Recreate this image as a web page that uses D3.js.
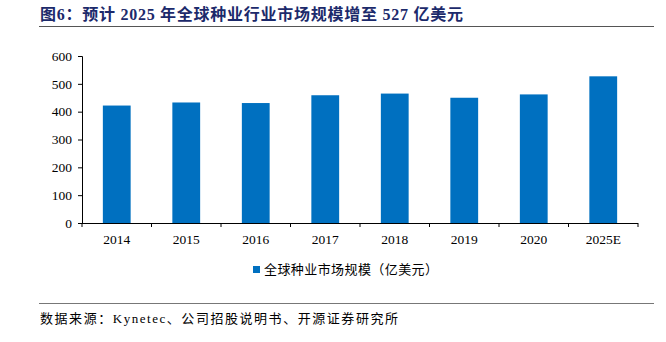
<!DOCTYPE html>
<html><head><meta charset="utf-8">
<script src="https://cdn.jsdelivr.net/npm/d3@7"></script>
<style>body{margin:0;background:#fff}</style>
</head><body>
<svg id="c" width="666" height="342"></svg>
<script>
const categories = ["2014","2015","2016","2017","2018","2019","2020","2025E"];
const values = [422, 433, 431, 459, 465, 450, 462, 527];
const yTicks = [0,100,200,300,400,500,600];
const title = "图6：预计 2025 年全球种业行业市场规模增至 527 亿美元";
const legendLabel = "全球种业市场规模（亿美元）";
const source = "数据来源：Kynetec、公司招股说明书、开源证券研究所";

const svg = d3.select("#c");
const serif = "'Liberation Serif','Times New Roman',serif";
const mixed = "'Liberation Serif','Noto Sans CJK SC',serif";

svg.append("text").attr("x",40).attr("y",20)
  .attr("font-family",mixed).attr("font-weight","bold").attr("font-size",16)
  .attr("textLength",423).attr("lengthAdjust","spacing")
  .attr("fill","#1c2a6b").text(title);
svg.append("line").attr("x1",39).attr("x2",654).attr("y1",26.5).attr("y2",26.5)
  .attr("stroke","#555").attr("stroke-width",1.2);

const x = d3.scaleBand().domain(categories).range([82,638]).paddingInner(0.6).paddingOuter(0.3);
const y = d3.scaleLinear().domain([0,600]).range([223,56]);

svg.selectAll("rect.bar").data(values).join("rect").attr("class","bar")
  .attr("x",(d,i)=>x(categories[i])).attr("width",x.bandwidth())
  .attr("y",d=>y(d)).attr("height",d=>y(0)-y(d)).attr("fill","#0070c0");

const ya = svg.append("g").attr("transform","translate(82,0)")
  .call(d3.axisLeft(y).tickValues(yTicks).tickSize(4).tickPadding(6));
ya.select(".domain").attr("stroke","#000");
ya.selectAll("line").attr("stroke","#000");
ya.selectAll("text").attr("font-family",serif).attr("font-size",13.5).attr("fill","#000");

// x axis
const xa = svg.append("g");
xa.append("line").attr("x1",82).attr("x2",638).attr("y1",y(0)+0.5).attr("y2",y(0)+0.5).attr("stroke","#000");
d3.range(categories.length+1).forEach(i=>{
  const xx = 82 + i*(556/categories.length);
  xa.append("line").attr("x1",xx).attr("x2",xx).attr("y1",y(0)).attr("y2",y(0)+4).attr("stroke","#000");
});
xa.selectAll("text").data(categories).join("text")
  .attr("x",d=>x(d)+x.bandwidth()/2).attr("y",244)
  .attr("text-anchor","middle").attr("font-family",serif).attr("font-size",13.5).attr("fill","#000")
  .text(d=>d);

// legend
svg.append("rect").attr("x",253).attr("y",266).attr("width",7).attr("height",7).attr("fill","#0070c0");
svg.append("text").attr("x",264).attr("y",274).attr("font-family",mixed).attr("font-size",13)
  .attr("textLength",174).attr("lengthAdjust","spacing").attr("fill","#000").text(legendLabel);

svg.append("line").attr("x1",39).attr("x2",654).attr("y1",303.5).attr("y2",303.5)
  .attr("stroke","#777").attr("stroke-width",1.2);
svg.append("text").attr("x",40).attr("y",323).attr("font-family",mixed).attr("font-size",13)
  .attr("textLength",358).attr("lengthAdjust","spacing").attr("fill","#000").text(source);
</script>
</body></html>
